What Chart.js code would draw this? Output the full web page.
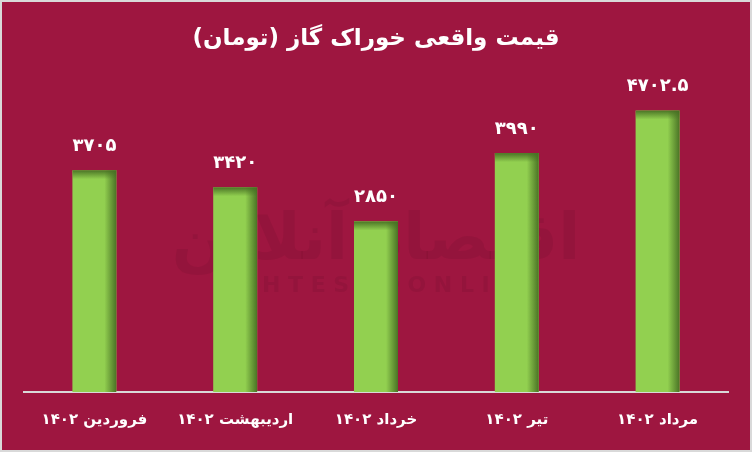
<!DOCTYPE html>
<html>
<head>
<meta charset="utf-8">
<script src="https://cdn.jsdelivr.net/npm/chart.js@4.4.0/dist/chart.umd.min.js"></script>
<style>
  html, body { margin: 0; padding: 0; background: #d9d9d9; }
  #wrap { position: absolute; left: 2px; top: 2px; width: 748px; height: 448px; background: #9e1640; }
</style>
</head>
<body>
<div id="wrap"><canvas id="gasChart" width="748" height="448"></canvas></div>
<script>
const months = ['فروردین ۱۴۰۲', 'اردیبهشت ۱۴۰۲', 'خرداد ۱۴۰۲', 'تیر ۱۴۰۲', 'مرداد ۱۴۰۲'];
const prices = [3705, 3420, 2850, 3990, 4702.5];
const yMax = 5000;

function toPersianDigits(n) {
  return String(n).replace(/[0-9]/g, (d) => '۰۱۲۳۴۵۶۷۸۹'[d]);
}

// faint site watermark behind the bars
const watermark = {
  id: 'watermark',
  beforeDatasetsDraw(chart) {
    const ctx = chart.ctx;
    ctx.save();
    ctx.fillStyle = 'rgba(60, 0, 20, 0.09)';
    ctx.textAlign = 'center';
    ctx.textBaseline = 'middle';
    ctx.font = 'bold 64px "DejaVu Sans"';
    ctx.fillText('اقتصاد آنلاین', 374, 240);
    ctx.font = 'bold 22px "DejaVu Sans"';
    ctx.fillText('E G H T E S A D O N L I N E', 374, 284);
    ctx.restore();
  }
};

// darker edge on the top and right of each bar, plus value labels
const barShade = {
  id: 'barShade',
  afterDatasetsDraw(chart) {
    const ctx = chart.ctx;
    const meta = chart.getDatasetMeta(0);
    meta.data.forEach((bar, i) => {
      const p = bar.getProps(['x', 'y', 'base', 'width'], true);
      const left = p.x - p.width / 2;
      const right = p.x + p.width / 2;
      ctx.save();
      ctx.beginPath();
      ctx.rect(left, p.y, p.width, p.base - p.y);
      ctx.clip();

      let g = ctx.createLinearGradient(right - 12, 0, right, 0);
      g.addColorStop(0, 'rgba(70, 110, 35, 0)');
      g.addColorStop(1, 'rgba(70, 110, 35, 0.95)');
      ctx.fillStyle = g;
      ctx.fillRect(right - 12, p.y, 12, p.base - p.y);

      g = ctx.createLinearGradient(0, p.y, 0, p.y + 9);
      g.addColorStop(0, 'rgba(70, 110, 35, 0.95)');
      g.addColorStop(1, 'rgba(70, 110, 35, 0)');
      ctx.fillStyle = g;
      ctx.fillRect(left, p.y, p.width, 9);
      ctx.restore();

      ctx.save();
      ctx.fillStyle = '#ffffff';
      ctx.font = 'bold 18px "DejaVu Sans"';
      ctx.textAlign = 'center';
      ctx.textBaseline = 'bottom';
      ctx.fillText(toPersianDigits(prices[i]), p.x, p.y - 15);
      ctx.restore();
    });
  }
};

const ctx = document.getElementById('gasChart').getContext('2d');
new Chart(ctx, {
  type: 'bar',
  data: {
    labels: months,
    datasets: [{
      data: prices,
      backgroundColor: '#92d050',
      borderWidth: 0,
      categoryPercentage: 1,
      barPercentage: 0.3125
    }]
  },
  options: {
    responsive: false,
    animation: false,
    layout: { padding: { left: 22, right: 22, bottom: 2 } },
    plugins: {
      legend: { display: false },
      tooltip: { enabled: false },
      title: {
        display: true,
        text: 'قیمت واقعی خوراک گاز (تومان)',
        color: '#ffffff',
        font: { family: 'DejaVu Sans', size: 23, weight: 'bold' },
        padding: { top: 23, bottom: 40 }
      }
    },
    scales: {
      x: {
        grid: { display: false, drawTicks: false },
        border: { display: true, color: '#d9d9d9', width: 2 },
        ticks: {
          color: '#ffffff',
          padding: 19,
          font: { family: 'DejaVu Sans', size: 15, weight: 'bold' }
        }
      },
      y: {
        display: false,
        min: 0,
        max: yMax
      }
    }
  },
  plugins: [watermark, barShade]
});
</script>
</body>
</html>
